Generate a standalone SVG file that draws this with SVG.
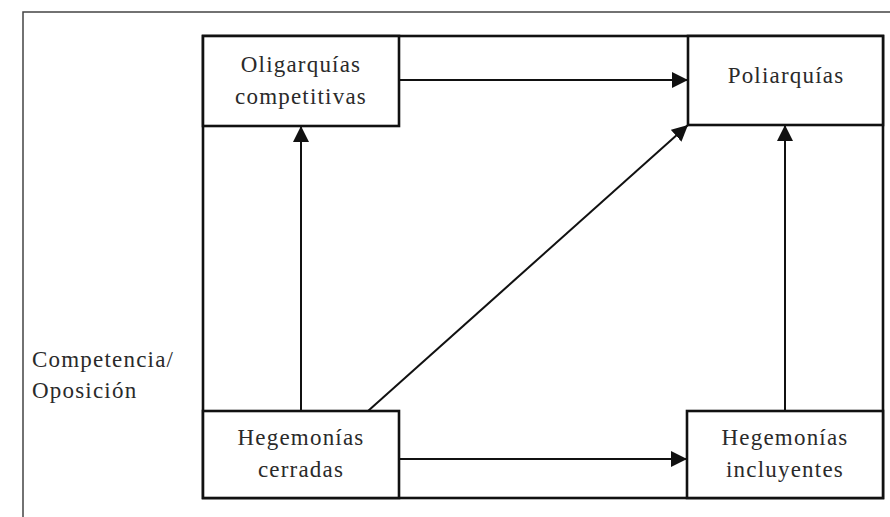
<svg xmlns="http://www.w3.org/2000/svg" width="890" height="517" viewBox="0 0 890 517">
<style>
.box{fill:#fff;stroke:#111;stroke-width:2.6}
.frame{fill:none;stroke:#444;stroke-width:1.5}
.edge{stroke:#111;stroke-width:2;fill:none}
text{font-family:"Liberation Serif","Times New Roman",serif;font-size:23px;fill:#2a2a2a;letter-spacing:1.2px}
.c{text-anchor:middle}
</style>
<defs>
<marker id="ah" viewBox="0 0 16 16" refX="16" refY="8" markerWidth="16" markerHeight="16" markerUnits="userSpaceOnUse" orient="auto">
<path d="M0,0 L16,8 L0,16 Z" fill="#111"/>
</marker>
</defs>
<rect width="890" height="517" fill="#fff"/>
<path class="frame" d="M23,517 V12 H890"/>
<rect x="203" y="36" width="680" height="462" fill="none" stroke="#111" stroke-width="2.6"/>
<g id="connectors">
<line class="edge" x1="399" y1="80" x2="688" y2="80" marker-end="url(#ah)"/>
<line class="edge" x1="399" y1="459" x2="687" y2="459" marker-end="url(#ah)"/>
<line class="edge" x1="301" y1="411" x2="301" y2="126" marker-end="url(#ah)"/>
<line class="edge" x1="785" y1="411" x2="785" y2="125" marker-end="url(#ah)"/>
<line class="edge" x1="368" y1="411" x2="688" y2="125" marker-end="url(#ah)"/>
</g>
<g id="oligarquias">
<rect class="box" x="203" y="36" width="196" height="90"/>
<text class="c" x="301" y="72">Oligarquías</text>
<text class="c" x="301" y="104">competitivas</text>
</g>
<g id="poliarquias">
<rect class="box" x="688" y="36" width="195" height="89"/>
<text class="c" x="786" y="83">Poliarquías</text>
</g>
<g id="hegemonias-cerradas">
<rect class="box" x="203" y="411" width="196" height="87"/>
<text class="c" x="301" y="445">Hegemonías</text>
<text class="c" x="301" y="477">cerradas</text>
</g>
<g id="hegemonias-incluyentes">
<rect class="box" x="687" y="411" width="196" height="87"/>
<text class="c" x="785" y="445">Hegemonías</text>
<text class="c" x="785" y="477">incluyentes</text>
</g>
<g id="eje">
<text x="32" y="367">Competencia/</text>
<text x="32" y="398">Oposición</text>
</g>
</svg>
